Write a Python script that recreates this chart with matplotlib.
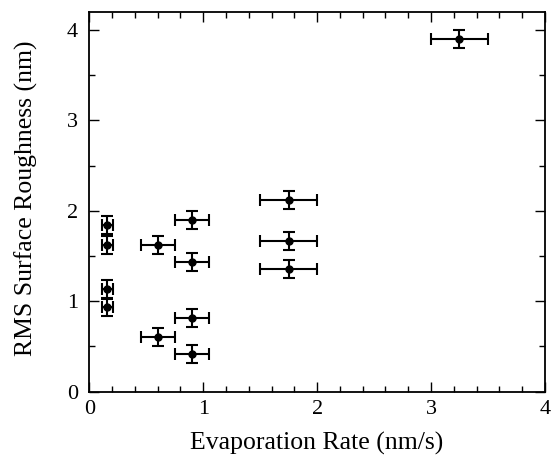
import matplotlib
matplotlib.use("Agg")
import matplotlib.pyplot as plt
import matplotlib.ticker as ticker

# data
rate     = [0.16, 0.16, 0.16, 0.16, 0.60, 0.60, 0.90, 0.90, 0.90, 0.90, 1.75, 1.75, 1.75, 3.25]
rough    = [1.84, 1.62, 1.13, 0.94, 1.62, 0.60, 1.90, 1.43, 0.81, 0.42, 2.12, 1.67, 1.36, 3.90]
rate_err = [0.05, 0.05, 0.05, 0.05, 0.15, 0.15, 0.15, 0.15, 0.15, 0.15, 0.25, 0.25, 0.25, 0.25]
rough_err = [0.10] * len(rate)

plt.rcParams.update({
    "font.family": "serif",
    "font.serif": ["Liberation Serif", "DejaVu Serif"],
    "font.size": 16,
})

fig = plt.figure(figsize=(5.51, 4.68), dpi=100)
ax = fig.add_axes([0.162, 0.163, 0.827, 0.812])

ax.errorbar(rate, rough, xerr=rate_err, yerr=rough_err,
            fmt="o", color="black", markersize=5, elinewidth=1.5,
            capsize=4, capthick=1.5)

ax.set_xlim(0, 4)
ax.set_ylim(0, 4.2)
ax.xaxis.set_major_locator(ticker.MultipleLocator(1))
ax.xaxis.set_minor_locator(ticker.MultipleLocator(0.2))
ax.yaxis.set_major_locator(ticker.MultipleLocator(1))
ax.yaxis.set_minor_locator(ticker.MultipleLocator(0.5))
ax.tick_params(which="both", direction="in", top=True, right=True, width=1.0)
ax.tick_params(which="major", length=7, labelsize=16)
ax.tick_params(axis="x", which="major", pad=6)
ax.tick_params(axis="y", which="major", pad=8)
ax.tick_params(which="minor", length=4)
for s in ax.spines.values():
    s.set_linewidth(1.3)

ax.set_xlabel("Evaporation Rate (nm/s)", fontsize=18.5)
ax.set_ylabel("RMS Surface Roughness (nm)", fontsize=18.5)
ax.xaxis.set_label_coords(0.5, -0.105)
ax.yaxis.set_label_coords(-0.113, 0.51)

fig.savefig("out.png", dpi=100)
